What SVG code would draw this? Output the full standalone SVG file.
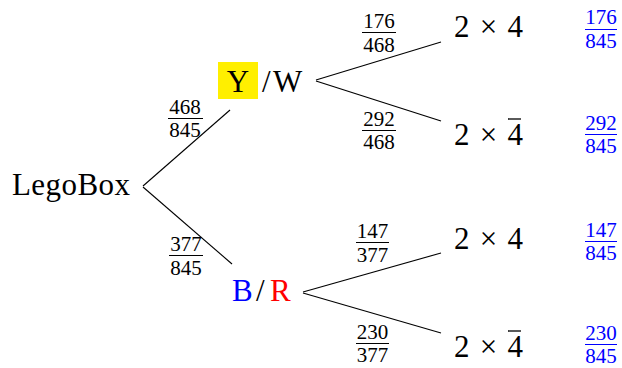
<svg xmlns="http://www.w3.org/2000/svg" width="622" height="368" viewBox="0 0 622 368" font-family="Liberation Serif, serif">
<style>
text{font-family:"Liberation Serif",serif}
.big{font-size:31px}
.fr{font-size:21px;text-anchor:middle}
.blue{fill:#0000ff}
.red{fill:#ff0000}
.bar{stroke:#000;stroke-width:1}
.bbar{stroke:#0000ff;stroke-width:1}
.mac{stroke:#000;stroke-width:1.3}
.edge{stroke:#000;stroke-width:1.1;fill:none}
</style>
<rect width="622" height="368" fill="#fff"/>
<g id="connectors">
<line class="edge" x1="143" y1="186" x2="230" y2="110"/>
<line class="edge" x1="143" y1="187" x2="232" y2="264"/>
<line class="edge" x1="316" y1="80" x2="441" y2="42"/>
<line class="edge" x1="316" y1="81" x2="441" y2="121"/>
<line class="edge" x1="303" y1="292" x2="441" y2="253"/>
<line class="edge" x1="303" y1="293" x2="441" y2="333"/>
</g>
<g id="root"><text class="big" x="12" y="195" textLength="118" lengthAdjust="spacing">LegoBox</text></g>
<g id="yw">
<rect x="218" y="62" width="40" height="37" fill="#ffef00"/>
<text class="big" x="238" y="92" text-anchor="middle">Y</text>
<text class="big" x="262" y="92">/</text>
<text class="big" x="273" y="92">W</text>
</g>
<g id="br">
<text class="big blue" x="232" y="301">B</text>
<text class="big" x="256" y="301">/</text>
<text class="big red" x="270" y="301">R</text>
</g>
<g id="p-yw"><text class="fr" x="185" y="114">468</text><line class="bar" x1="168" y1="118.5" x2="203" y2="118.5"/><text class="fr" x="185" y="137">845</text></g>
<g id="p-br"><text class="fr" x="186" y="251">377</text><line class="bar" x1="169" y1="255.5" x2="203" y2="255.5"/><text class="fr" x="186" y="275">845</text></g>
<g id="p-yw-a"><text class="fr" x="379" y="28">176</text><line class="bar" x1="362" y1="32.5" x2="396" y2="32.5"/><text class="fr" x="379" y="52">468</text></g>
<g id="p-yw-b"><text class="fr" x="379" y="126">292</text><line class="bar" x1="362" y1="130.5" x2="396" y2="130.5"/><text class="fr" x="379" y="149">468</text></g>
<g id="p-br-a"><text class="fr" x="372.5" y="238">147</text><line class="bar" x1="356" y1="242.5" x2="389" y2="242.5"/><text class="fr" x="372.5" y="262">377</text></g>
<g id="p-br-b"><text class="fr" x="372.5" y="339">230</text><line class="bar" x1="356" y1="343.5" x2="389" y2="343.5"/><text class="fr" x="372.5" y="362">377</text></g>
<g id="yw-a"><text class="big" x="454" y="37" textLength="69" lengthAdjust="spacing">2 &#215; 4</text></g>
<g id="yw-b"><text class="big" x="454" y="145" textLength="69" lengthAdjust="spacing">2 &#215; 4</text><line class="mac" x1="508" y1="119" x2="521" y2="119"/></g>
<g id="br-a"><text class="big" x="454" y="249" textLength="69" lengthAdjust="spacing">2 &#215; 4</text></g>
<g id="br-b"><text class="big" x="454" y="357" textLength="69" lengthAdjust="spacing">2 &#215; 4</text><line class="mac" x1="508" y1="331" x2="521" y2="331"/></g>
<g id="r1"><text class="fr blue" x="601" y="24">176</text><line class="bbar" x1="585" y1="29.5" x2="617" y2="29.5"/><text class="fr blue" x="601" y="48">845</text></g>
<g id="r2"><text class="fr blue" x="601" y="130">292</text><line class="bbar" x1="585" y1="134.5" x2="617" y2="134.5"/><text class="fr blue" x="601" y="153">845</text></g>
<g id="r3"><text class="fr blue" x="601" y="237">147</text><line class="bbar" x1="585" y1="241.5" x2="617" y2="241.5"/><text class="fr blue" x="601" y="260">845</text></g>
<g id="r4"><text class="fr blue" x="601" y="340">230</text><line class="bbar" x1="585" y1="344.5" x2="617" y2="344.5"/><text class="fr blue" x="601" y="363">845</text></g>
</svg>
